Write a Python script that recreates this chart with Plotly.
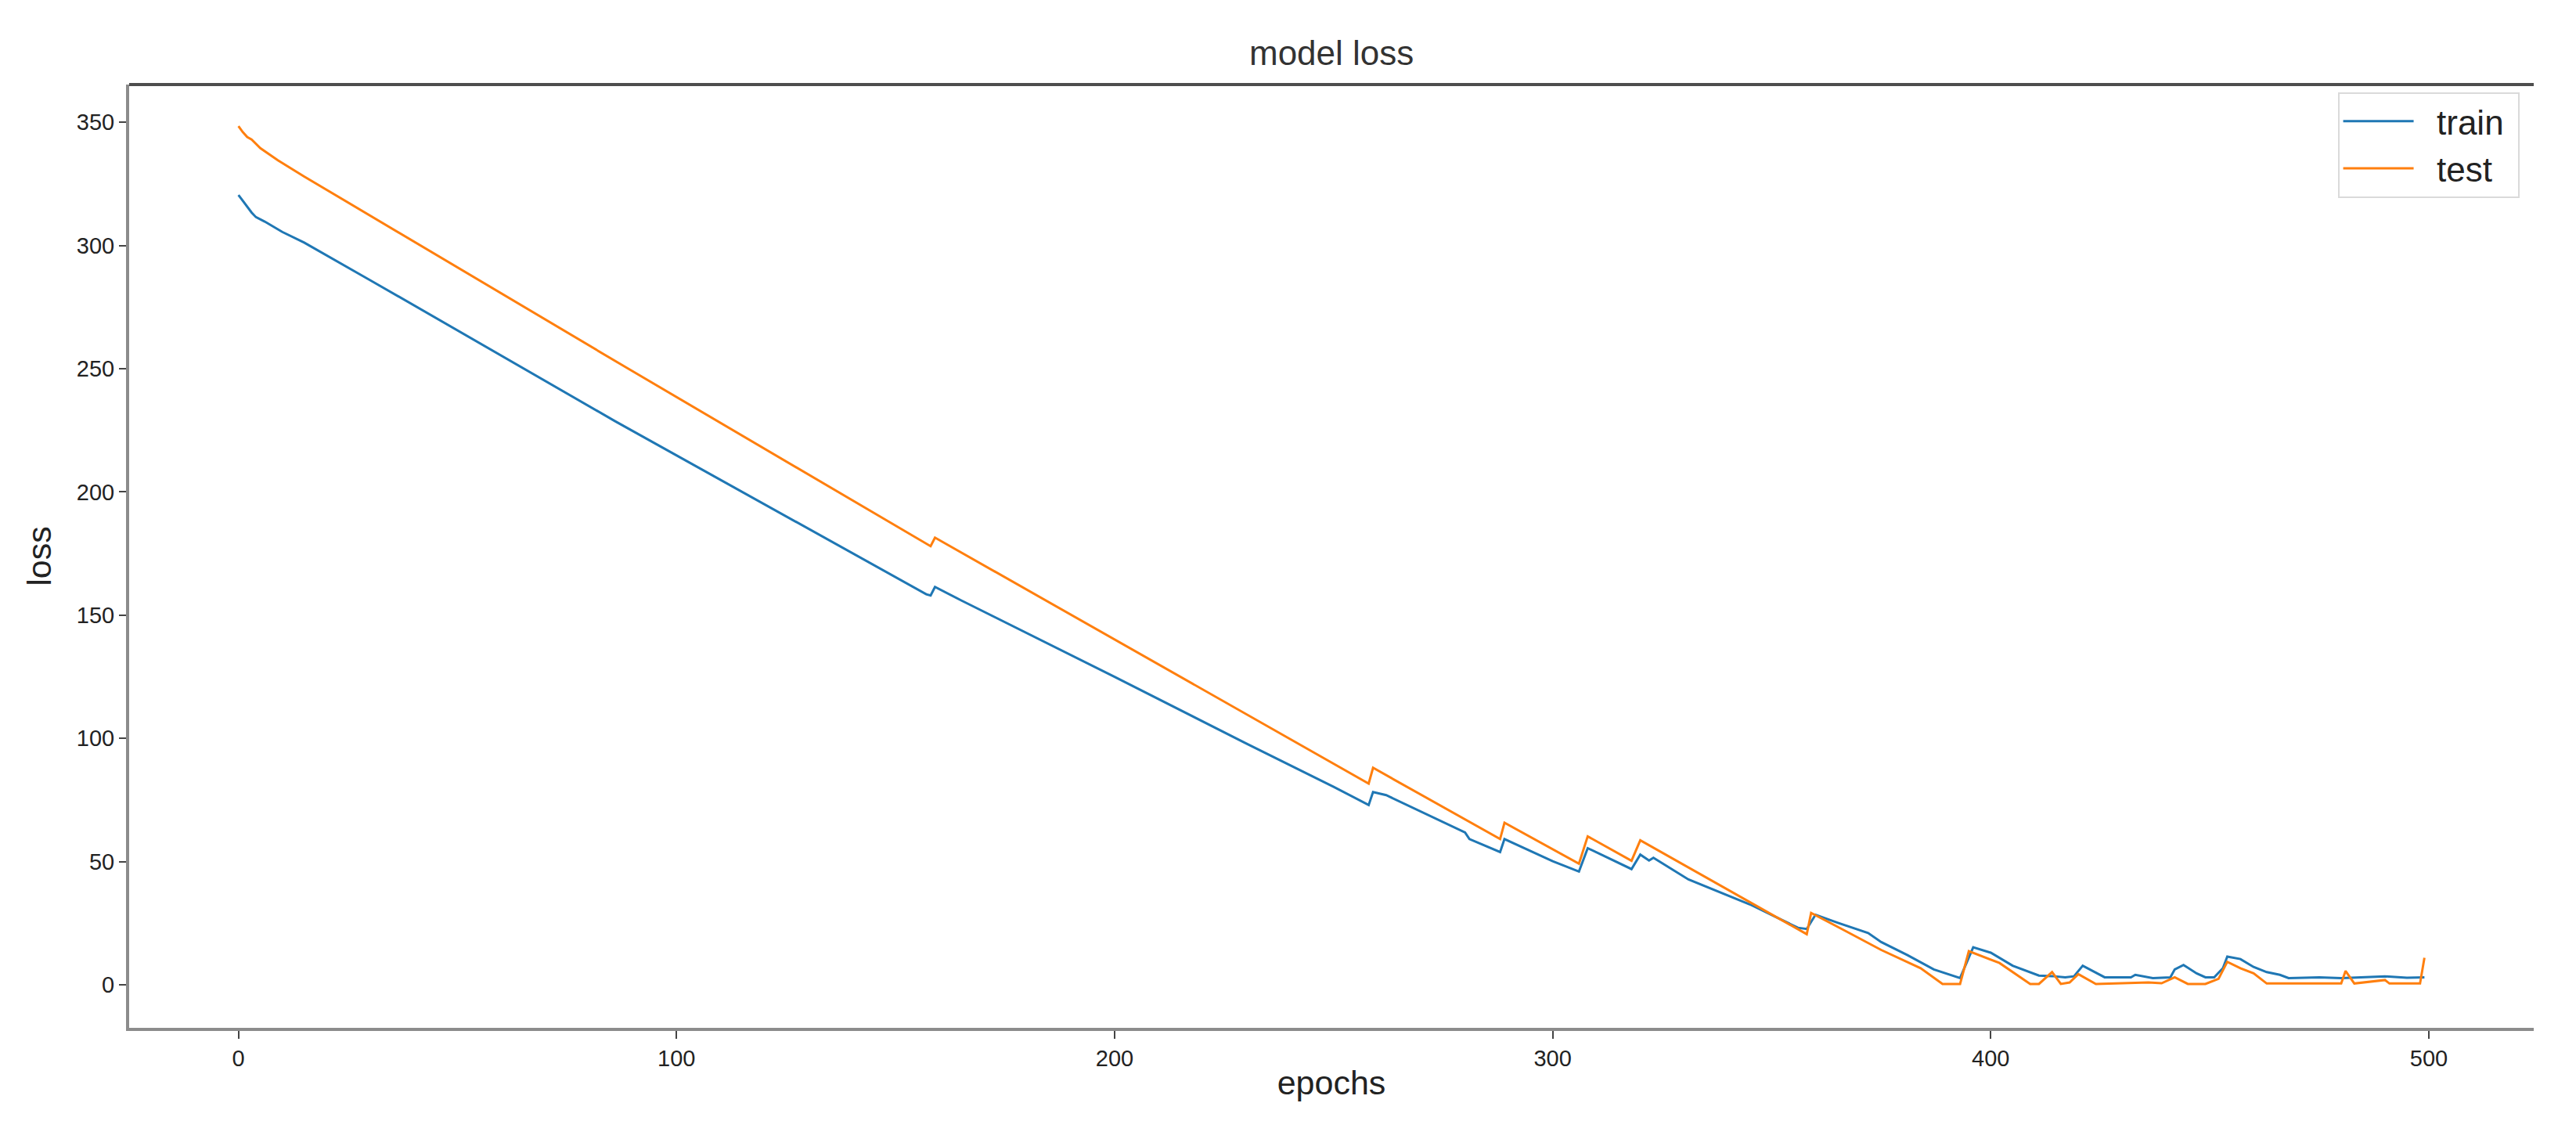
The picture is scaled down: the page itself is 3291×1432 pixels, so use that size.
import plotly.graph_objects as go

# ---- data ----
train_epochs = [0, 1, 2, 3, 4, 6, 10, 15, 30, 50, 86, 157, 158, 159,
                165, 200, 230, 250, 258, 259, 262, 280, 281, 288, 289, 300, 306, 308, 318,
                320, 322, 323, 331, 345, 356, 358, 360, 365, 372, 375, 381, 387, 393, 396,
                400, 405, 411, 414, 417, 419, 421, 426, 432, 433, 437, 441, 442, 444, 447,
                449, 451, 453, 454, 457, 460, 463, 466, 468, 475, 480, 485, 490, 495, 499]
train_loss = [320.5, 318, 315.5, 313.4, 311.5, 309.7, 305.5, 301.2, 286, 265.5, 228.7,
              158.5, 158, 161.5, 156, 125, 98, 80.4, 73, 78.3, 77, 61.9, 59.2,
              53.9, 59.2, 50.2, 46, 55.5, 47, 52.9, 50.5, 51.6, 42.8, 32.7, 23.2, 22.7, 28.5,
              25.3, 21.1, 17.4, 12.1, 6.3, 2.8, 15.3, 13.1, 7.8, 3.8, 3.6, 3.1, 3.5, 7.8, 3.1,
              3.1, 4.1, 2.8, 3.1, 6.3, 8.1, 4.7, 3.1, 3.1, 6.8, 11.5, 10.5, 7.3, 5.2, 4.1, 2.8,
              3.1, 2.8, 3.1, 3.5, 2.9, 3.1]

test_epochs = [0, 1, 2, 3, 5, 9, 15, 50, 89, 158, 159, 258, 259, 288, 289, 306, 308,
               318, 320, 358, 359, 366, 375, 384, 389, 393, 395, 402, 409, 411, 414, 416, 418,
               420, 424, 436, 439, 442, 445, 449, 452, 454, 457, 460, 463, 480, 481, 483, 490,
               491, 498, 499]
test_loss = [348.4, 346, 344, 343, 339.5, 334.6, 328, 291, 250, 178, 181.5, 81.7, 88.1,
             59.2, 65.8, 49.2, 60.3, 50.4, 58.7, 20.6, 29.2, 22.7, 14.2, 6.8, 0.4, 0.4, 13.7, 8.9,
             0.4, 0.4, 5.2, 0.4, 1.0, 4.4, 0.4, 1.0, 0.7, 3.1, 0.4, 0.4, 2.5, 9.4, 6.8, 4.7, 0.6,
             0.6, 5.7, 0.6, 2.0, 0.6, 0.6, 11]

x_ticks = [0, 100, 200, 300, 400, 500]
y_ticks = [0, 50, 100, 150, 200, 250, 300, 350]

FONT = "Liberation Sans, Arial, sans-serif"
NB = "\u00a0"

fig = go.Figure()
fig.add_trace(go.Scatter(x=train_epochs, y=train_loss, mode="lines", name=NB * 2 + "train" + NB,
                         line=dict(color="#1f77b4", width=3)))
fig.add_trace(go.Scatter(x=test_epochs, y=test_loss, mode="lines", name=NB * 2 + "test",
                         line=dict(color="#ff7f0e", width=3)))

fig.update_layout(
    width=3291, height=1432,
    margin=dict(l=157, r=62, t=100, b=127),
    paper_bgcolor="white", plot_bgcolor="white",
    font=dict(family=FONT, color="#222"),
    showlegend=True,
    legend=dict(x=0.994, y=0.992, xanchor="right", yanchor="top",
                bgcolor="white", bordercolor="#dadada", borderwidth=2,
                font=dict(size=44, family=FONT, color="#222"),
                itemwidth=90, tracegroupgap=0),
    annotations=[dict(text="model loss", xref="paper", yref="paper", x=0.5, y=1.012,
                      xanchor="center", yanchor="bottom", showarrow=False,
                      font=dict(size=44, family=FONT, color="#333"))],
    shapes=[dict(type="line", xref="paper", yref="paper", x0=0, x1=1, y0=1, y1=1,
                 line=dict(color="#4d4d4d", width=4))],
)

fig.update_xaxes(range=[-24.95, 523.95], tickvals=x_ticks, ticktext=[str(v) for v in x_ticks],
                 showgrid=False, zeroline=False, showline=True, linecolor="#8c8c8c", linewidth=4,
                 ticks="outside", ticklen=10, tickwidth=2, tickcolor="#444",
                 tickfont=dict(size=29, family=FONT, color="#222"),
                 title=dict(text="epochs", font=dict(size=43, family=FONT, color="#222"), standoff=2))
fig.update_yaxes(range=[-17.4, 365.3], tickvals=y_ticks, ticktext=[str(v) for v in y_ticks],
                 showgrid=False, zeroline=False, showline=True, linecolor="#8c8c8c", linewidth=4,
                 ticks="outside", ticklen=9, tickwidth=2, tickcolor="#444",
                 tickfont=dict(size=29, family=FONT, color="#222"),
                 title=dict(text="loss", font=dict(size=43, family=FONT, color="#222"), standoff=20))

fig.write_html("out.html")
